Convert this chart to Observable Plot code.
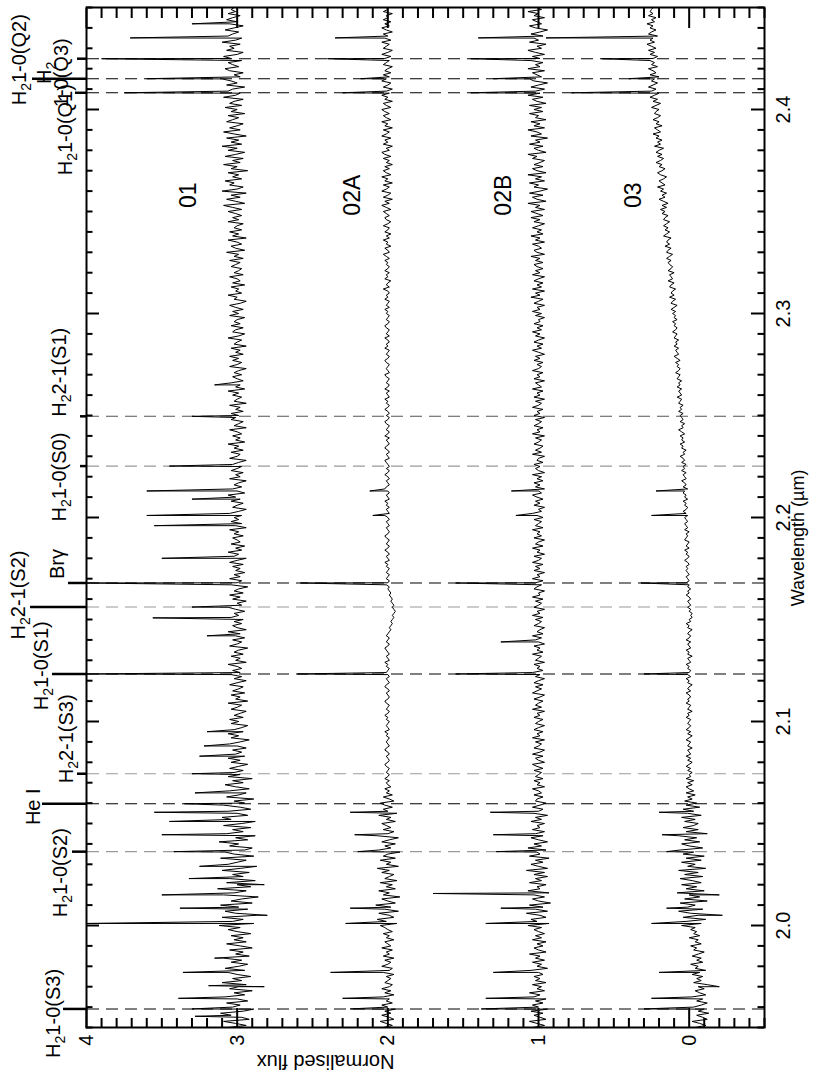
<!DOCTYPE html>
<html><head><meta charset="utf-8">
<script src="https://cdn.jsdelivr.net/npm/d3@7"></script>
<script src="https://cdn.jsdelivr.net/npm/@observablehq/plot@0.6"></script>
<style>
html,body{margin:0;padding:0;background:#fff;}
#wrap{position:relative;width:822px;height:1080px;overflow:hidden;background:#fff;}
#chart{position:absolute;left:0;top:0;width:1080px;height:822px;transform-origin:0 0;transform:translate(0px,1080px) rotate(-90deg);}
</style></head><body><div id="wrap"><div id="chart"></div></div>
<script>
// ---------- DATA ----------
// spectral pixel grid: WL_START + i*WL_STEP (µm); flux arrays are normalised flux × 100
const WL_START = 1.95, WL_STEP = 0.001, FLUX_UNIT = 100;
const flux01 = [
306,294,301,309,292,297,304,311,296,289,303,298,307,293,300,308,295,302,290,305,299,294,310,297,303,
291,300,306,295,308,299,293,304,297,309,292,301,296,305,290,298,307,294,302,296,304,291,300,306,298,
312,289,303,296,310,287,301,308,293,299,311,290,304,297,286,309,302,294,313,291,300,307,288,305,296,
303,292,310,298,287,306,300,294,311,289,302,308,295,290,305,299,312,293,301,288,307,296,303,291,309,
297,288,304,310,293,300,306,291,298,309,295,302,289,307,299,294,305,292,301,308,296,303,290,306,298,
302,296,305,299,293,304,298,306,295,301,297,303,294,300,305,298,292,304,299,306,296,302,297,293,304,
299,305,296,302,298,294,304,300,297,306,293,301,298,304,295,303,299,296,305,300,294,302,297,304,298,
303,297,300,306,294,301,298,304,296,302,299,293,305,300,297,303,295,301,298,306,294,300,303,297,302,
296,304,299,302,295,301,306,297,300,294,303,298,305,296,302,299,293,304,300,297,305,298,302,295,301,
298,303,296,305,300,294,302,299,306,297,301,295,304,298,300,303,296,302,299,305,294,301,297,304,299,
302,297,305,299,294,303,300,296,304,298,301,306,295,300,303,297,302,299,294,305,298,301,296,304,300,
297,303,299,294,305,300,298,304,296,302,299,306,295,301,298,303,297,300,305,294,302,299,296,304,301,
299,304,296,301,298,305,294,302,300,297,303,299,306,295,301,298,304,296,300,303,297,302,299,294,305,
300,297,303,299,305,296,301,298,304,294,302,300,297,306,299,295,303,301,296,304,298,302,300,295,305,
299,303,296,301,305,298,294,302,300,306,297,301,299,304,295,303,298,300,305,296,302,299,297,304,301,
298,305,296,302,299,307,295,301,304,297,300,306,294,303,299,305,297,302,300,296,306,299,303,297,301,
306,297,303,309,295,301,307,298,304,294,310,300,296,305,302,308,297,303,299,306,293,304,300,309,298,
303,296,308,301,295,306,300,310,297,304,299,307,294,302,309,298,305,300,296,307,303,299,306,295,304,
300,308,297,305,302,296,309,301,298,306,303,295,307,300,304,310,298,302,296,305,308,299,303,306,297,
304,309,300,296,307,302,305,298,310,301,297,306,303,299,308,302,296,305,300,307,303,298,306,301,304,
302];
const flux02A = [
203,197,201,205,196,199,204,198,202,195,200,204,197,201,199,203,196,202,198,204,199,197,202,200,198,
201,196,203,199,197,204,200,198,202,196,203,199,201,197,204,198,200,202,196,201,199,203,197,200,202,
205,194,201,207,196,199,206,193,202,198,208,195,200,204,192,203,199,206,195,201,197,205,194,202,199,
196,204,199,207,193,201,198,205,195,203,200,192,206,198,202,195,204,199,193,207,200,196,203,198,201,
204,195,201,198,206,194,200,203,197,202,205,196,199,203,197,201,199,202,198,200,201,199,202,200,199,
201,200,199,201,202,200,199,200,201,199,200,202,201,199,200,201,200,199,201,200,202,199,200,201,200,
199,201,200,202,200,199,201,200,199,201,202,200,199,200,201,199,200,202,201,199,200,201,199,200,201,
200,199,201,200,202,199,200,201,199,200,201,202,200,199,201,200,199,201,200,199,198,199,198,197,198,
197,196,197,196,195,196,197,196,197,198,197,198,199,198,199,200,199,201,200,199,201,200,199,201,200,
199,201,200,202,199,200,201,199,200,202,200,199,201,200,199,201,202,200,199,200,201,199,200,201,199,
200,202,199,200,201,199,201,200,202,199,200,201,199,200,202,201,199,200,201,199,200,202,200,199,201,
199,200,201,202,199,200,201,199,200,202,201,199,200,201,199,202,200,199,201,200,199,201,202,200,199,
201,199,200,202,200,199,201,200,202,199,200,201,199,202,200,199,201,200,199,201,202,199,200,201,200,
199,201,202,200,199,201,200,199,202,200,201,199,200,202,199,201,200,199,201,202,200,199,201,200,199,
201,200,202,199,201,200,199,202,200,201,199,200,203,199,201,200,198,202,200,201,199,202,200,199,201,
200,202,199,201,203,199,200,202,198,201,200,203,199,201,198,202,200,199,203,200,198,201,202,199,201,
203,198,201,204,199,202,197,203,200,198,204,201,199,203,197,202,200,204,198,201,203,199,202,197,201,
199,203,198,202,204,199,201,197,203,200,202,198,204,201,199,203,197,202,200,204,198,201,203,199,202,
204,198,201,203,197,202,200,204,199,201,197,203,200,198,204,201,199,203,198,202,200,197,203,201,199,
202,198,204,200,197,203,201,199,204,198,202,200,203,197,201,204,199,202,198,203,200,201,197,203,200,
201];
const flux02B = [
104,96,101,106,95,99,103,97,105,94,100,104,97,102,95,103,99,106,96,101,98,104,95,102,99,
103,97,100,105,94,101,98,104,96,102,99,106,95,100,103,97,101,95,104,98,102,96,100,103,98,
107,93,101,105,95,99,108,94,102,97,106,92,100,104,96,103,93,107,99,101,95,106,98,102,94,
103,96,108,94,100,105,97,102,93,106,99,101,95,107,98,103,94,100,105,97,102,96,104,99,101,
96,105,98,102,94,103,100,97,104,99,95,102,101,97,103,98,100,104,96,101,99,103,97,102,100,
98,103,97,101,104,96,100,102,97,104,99,96,103,100,98,102,96,104,99,101,97,103,100,96,102,
100,97,103,99,101,96,104,98,102,100,97,103,99,96,104,101,98,102,97,103,100,96,102,99,104,
97,101,99,103,96,102,100,98,104,97,101,99,103,96,100,102,98,104,97,101,99,96,103,100,98,
102,97,104,99,101,96,103,100,98,102,97,104,99,100,96,103,101,98,102,97,104,99,101,96,103,
99,102,97,104,100,98,103,96,101,99,104,97,102,100,96,103,98,101,99,104,97,102,100,98,103,
97,101,104,98,100,96,103,99,102,97,101,104,98,100,96,102,99,103,97,101,98,104,96,100,102,
99,103,97,101,100,96,104,98,102,99,97,103,100,98,102,96,104,99,101,97,103,100,98,102,96,
103,99,101,97,104,100,98,102,96,103,99,101,97,104,98,100,102,96,103,99,101,97,104,100,98,
101,97,103,99,102,96,100,104,98,101,97,103,100,96,102,99,104,98,101,97,103,99,100,96,102,
98,104,99,101,96,103,100,97,105,99,102,96,104,98,101,97,103,100,96,104,99,102,97,101,103,
97,102,99,105,96,101,103,98,100,104,96,102,99,105,97,101,98,104,100,96,103,99,105,97,101,
105,96,102,99,107,95,101,104,97,106,99,94,103,100,106,96,102,98,107,95,101,104,97,103,99,
96,104,101,107,95,100,103,97,106,99,102,94,105,98,101,107,96,103,99,105,95,102,100,106,97,
103,98,106,95,101,104,97,107,99,102,96,105,100,94,103,106,98,101,104,96,107,99,102,97,105,
99,104,96,102,107,98,101,95,106,100,103,97,105,99,94,102,106,98,101,104,96,103,100,107,98,
101];
const flux03 = [
-4,-11,-7,-2,-12,-9,-5,-13,-6,-10,-3,-8,-12,-5,-9,-2,-11,-7,-4,-10,-6,-12,-3,-8,-5,
-9,-2,-7,-11,-4,-6,-1,-9,-5,-8,-2,-6,-10,-3,-5,-1,-8,-4,-6,0,-7,-3,-5,-1,-4,
5,-8,2,-11,4,-6,-1,7,-9,1,-4,6,-12,3,-7,0,8,-10,2,-5,5,-8,-2,6,-9,
3,-6,7,-11,1,-4,5,-8,2,-10,4,-3,6,-9,0,5,-7,3,-5,7,-12,2,-6,4,-3,
-6,3,-4,5,-8,1,-3,4,-7,2,-5,3,-2,1,-4,2,-3,0,2,-2,1,-3,2,-1,0,
-2,1,-1,2,0,-2,1,-1,2,-1,0,1,-2,1,0,-1,2,0,-2,1,-1,2,0,-1,1,
0,-1,2,0,1,-2,1,0,-1,2,0,1,-1,0,2,-1,1,0,-2,1,0,2,-1,1,0,
-1,1,0,2,-1,0,1,-2,1,0,2,-1,0,1,-1,2,0,-1,1,0,-2,1,0,2,-1,
0,-2,-1,-2,0,-1,1,-1,0,1,-1,0,2,0,1,-1,1,0,2,0,1,2,0,1,2,
1,2,0,1,3,1,0,2,1,3,0,2,1,0,3,2,1,2,0,3,1,2,3,1,2,
3,1,2,4,2,1,3,2,4,1,3,2,4,3,1,4,2,3,5,2,3,4,2,5,3,
4,2,5,3,4,6,3,4,2,5,4,6,3,5,4,6,3,5,7,4,5,3,6,4,5,
6,4,7,5,6,4,7,6,5,8,5,6,7,5,8,6,7,5,8,7,6,9,7,6,8,
7,9,6,8,10,7,8,9,7,10,8,9,7,10,9,8,11,9,8,10,9,11,8,10,9,
11,9,12,10,8,12,11,9,13,10,12,11,9,13,12,10,14,11,12,13,10,14,12,11,13,
14,12,15,13,11,15,14,12,16,13,15,14,12,17,15,13,16,14,17,15,13,17,16,14,18,
16,19,15,18,14,17,20,16,18,15,19,17,21,16,18,20,17,15,19,21,18,16,20,18,22,
19,17,21,18,22,20,17,23,19,21,18,22,20,24,19,21,23,18,22,20,24,21,19,23,22,
20,25,22,19,24,21,26,23,20,25,22,27,24,21,25,23,20,26,22,24,27,21,25,23,26,
24,21,26,23,27,22,25,28,23,26,24,21,27,25,22,26,24,28,23,25,22,27,24,26,25,
24];

// narrow emission / residual features: [wavelength µm, normalised flux]
const spikes01 = [[1.9555,3.28],[1.9591,3.30],[1.9643,3.39],[1.9700,2.82],[1.9705,3.19],[1.9770,3.36],[1.9840,3.15],
  [2.0010,4.00],[2.0050,2.80],[2.0085,3.38],[2.0150,3.50],[2.0200,2.82],[2.0230,3.32],[2.0290,3.25],[2.0362,3.42],
  [2.0445,3.50],[2.0510,3.45],[2.0555,3.55],[2.0597,3.35],[2.0650,3.28],[2.0744,3.30],[2.0830,3.25],[2.0880,3.22],
  [2.0950,3.20],[2.1233,4.00],[2.1420,3.20],[2.1508,3.56],[2.1561,3.30],[2.1679,4.00],[2.1800,3.50],[2.1960,3.55],
  [2.2010,3.60],[2.2090,3.30],[2.2130,3.60],[2.2252,3.45],[2.2496,3.30],[2.2650,3.15],[2.4082,3.75],[2.4151,3.60],
  [2.4249,3.90],[2.4351,3.71],[2.4420,3.30]];
const spikes02A = [[1.9591,2.25],[1.9643,2.30],[1.9770,2.38],[2.0010,2.28],[2.0085,2.25],[2.0362,2.20],
  [2.0445,2.22],[2.0555,2.25],[2.1233,2.60],[2.1679,2.58],[2.2010,2.10],[2.2130,2.12],[2.4082,2.30],[2.4151,2.18],
  [2.4249,2.40],[2.4351,2.35]];
const spikes02B = [[1.9591,1.38],[1.9643,1.35],[1.9770,1.30],[2.0010,1.35],[2.0085,1.25],[2.0157,1.70],[2.0362,1.28],
  [2.0445,1.30],[2.0555,1.32],[2.1233,1.55],[2.1390,1.25],[2.1679,1.55],[2.2010,1.15],[2.2130,1.18],[2.4082,1.45],
  [2.4151,1.30],[2.4249,1.45],[2.4351,1.40]];
const spikes03 = [[1.9591,0.30],[1.9643,0.25],[1.9700,-0.20],[1.9770,0.20],[2.0010,0.25],[2.0050,-0.22],[2.0085,0.15],
  [2.0150,-0.20],[2.0362,0.15],[2.0445,0.18],[2.0555,0.20],[2.1233,0.30],[2.1679,0.32],[2.2010,0.25],[2.2130,0.22],
  [2.4082,0.78],[2.4151,0.40],[2.4249,0.58],[2.4351,0.95]];

const seriesNames = ["01", "02A", "02B", "03"];
const seriesLabelWl = 2.358;
const seriesLabelFlux = [3.32, 2.235, 1.233, 0.37];

// line identifications
const lineWl   = [1.9591, 2.0362, 2.0597, 2.0744, 2.1233, 2.1561, 2.1679, 2.2252, 2.2496, 2.4082, 2.4151, 2.4249];
const lineKind = ["main","weak","main","weak","main","weak","main","weak","mid","main","main","main"];
const labelText = ["H₂1-0(S3)","H₂1-0(S2)","He I","H₂2-1(S3)","H₂1-0(S1)","H₂2-1(S2)","Brγ","H₂1-0(S0)","H₂2-1(S1)","H₂1-0(Q1)","H₂1-0(Q2)","H₂","1-0(Q3)"];
const labelWl   = [1.9569, 2.0259, 2.0582, 2.0915, 2.1273, 2.1620, 2.1772, 2.2198, 2.2712, 2.3901, 2.4244, 2.4180, 2.4180];

const wlTickLabels = [2.0, 2.1, 2.2, 2.3, 2.4];
const fluxTickLabels = [0, 1, 2, 3, 4];

// ---------- LAYOUT ----------
const W = 1080, H = 822, mL = 52, mR = 8, mT = 86, mB = 58;
const xDom = [1.95, 2.45], yDom = [-0.5, 4];
const innerW = W - mL - mR, innerH = H - mT - mB;
const fPerPx = (yDom[1] - yDom[0]) / innerH;
const wPerPx = (xDom[1] - xDom[0]) / innerW;
const pxY = py => yDom[1] - (py - mT) * fPerPx;       // svg y (px) -> flux
const labelCenterPx = [53, 60, 33, 66, 41, 18, 57, 59, 59, 65, 19, 44, 61];
const labelAnchor = ["middle","middle","middle","middle","middle","middle","middle","middle","middle","middle","middle","start","start"];
const leaderTopPx = [63, 72, 42, 77, 52, 30, 68, 80, 80, 75, 32, 77];
const kindColor = {main: "#000", weak: "#9a9a9a", mid: "#555"};
const FONT = "'Liberation Sans', Arial, Helvetica, sans-serif";

function spectrum(values, spikes, name) {
  const pts = values.map((f, i) => ({wl: WL_START + i * WL_STEP, flux: f / FLUX_UNIT, name}));
  for (const [wl, f] of spikes) pts.push({wl, flux: f, name});
  pts.sort((a, b) => a.wl - b.wl);
  return pts;
}
const specs = [
  spectrum(flux01, spikes01, "01"),
  spectrum(flux02A, spikes02A, "02A"),
  spectrum(flux02B, spikes02B, "02B"),
  spectrum(flux03, spikes03, "03")
];
const lines = lineWl.map((wl, i) => ({wl, kind: lineKind[i], top: pxY(leaderTopPx[i])}));
const labels = labelText.map((t, i) => ({t, wl: labelWl[i], y: pxY(labelCenterPx[i]), anchor: labelAnchor[i]}));
const seriesLabels = seriesNames.map((n, i) => ({n, wl: seriesLabelWl, flux: seriesLabelFlux[i]}));

const wlMinor = d3.range(195, 246).map(d => d / 100);
const fluxMinor = d3.range(-5, 41).map(d => d / 10);
const isMajorWl = d => Math.abs(d * 10 - Math.round(d * 10)) < 1e-6;
const isMajorF = d => Math.abs(d - Math.round(d)) < 1e-6;
const tw = (d) => isMajorWl(d) ? 13 : 6.5;
const tf = (d) => isMajorF(d) ? 20 : 10;

const marks = [
  ...["weak", "mid", "main"].map(k => Plot.ruleX(lines.filter(d => d.kind === k), {
    x: "wl", y1: yDom[0], y2: yDom[1], stroke: kindColor[k], strokeWidth: 1.1, strokeDasharray: "12,7"})),
  ...specs.map(s => Plot.line(s, {x: "wl", y: "flux", stroke: "#000", strokeWidth: 1})),
  Plot.ruleX(lines, {x: "wl", y1: yDom[1], y2: "top", stroke: "#000", strokeWidth: 2.5}),
  Plot.ruleX(wlMinor, {x: d => d, y1: yDom[0], y2: d => yDom[0] + tw(d) * fPerPx, stroke: "#000", strokeWidth: 2}),
  Plot.ruleX(wlMinor, {x: d => d, y1: yDom[1], y2: d => yDom[1] - tw(d) * fPerPx, stroke: "#000", strokeWidth: 2}),
  Plot.ruleY(fluxMinor, {y: d => d, x1: xDom[0], x2: d => xDom[0] + tf(d) * wPerPx, stroke: "#000", strokeWidth: 2}),
  Plot.ruleY(fluxMinor, {y: d => d, x1: xDom[1], x2: d => xDom[1] - tf(d) * wPerPx, stroke: "#000", strokeWidth: 2}),
  Plot.frame({stroke: "#000", strokeWidth: 2}),
  Plot.axisX(wlTickLabels, {tickSize: 0, tickPadding: 11, tickFormat: d => d.toFixed(1), fontSize: 20, label: null}),
  Plot.axisY(fluxTickLabels, {tickSize: 0, tickPadding: 7, tickFormat: d => String(d), fontSize: 20, label: null}),
  Plot.text(["Wavelength (µm)"], {frameAnchor: "bottom", x: 2.19, dy: 39, fontSize: 18}),
  Plot.text(["Normalised flux"], {frameAnchor: "left", y: 1.956, dx: -34, rotate: -90, fontSize: 20}),
  Plot.text(labels, {x: "wl", y: "y", text: "t", textAnchor: "anchor", fontSize: 20, lineAnchor: "middle"}),
  Plot.text(seriesLabels, {x: "wl", y: "flux", text: "n", fontSize: 23})
];

const svg = Plot.plot({
  width: W, height: H,
  marginLeft: mL, marginRight: mR, marginTop: mT, marginBottom: mB,
  x: {domain: xDom, axis: null},
  y: {domain: yDom, axis: null},
  style: {fontFamily: FONT, fontSize: "20px", background: "#fff", color: "#000", overflow: "visible"},
  marks
});

// render the H2 subscript as a real lowered digit
const NS = "http://www.w3.org/2000/svg";
for (const t of svg.querySelectorAll("text")) {
  const s = t.textContent;
  if (!s.includes("₂") || t.children.length) continue;
  const [a, b] = s.split("₂");
  t.textContent = "";
  t.append(a);
  const sub = document.createElementNS(NS, "tspan");
  sub.setAttribute("font-size", "14");
  sub.setAttribute("dy", "5");
  sub.textContent = "2";
  t.append(sub);
  if (b) {
    const rest = document.createElementNS(NS, "tspan");
    rest.setAttribute("dy", "-5");
    rest.textContent = b;
    t.append(rest);
  }
}
document.getElementById("chart").append(svg);
</script></body></html>
